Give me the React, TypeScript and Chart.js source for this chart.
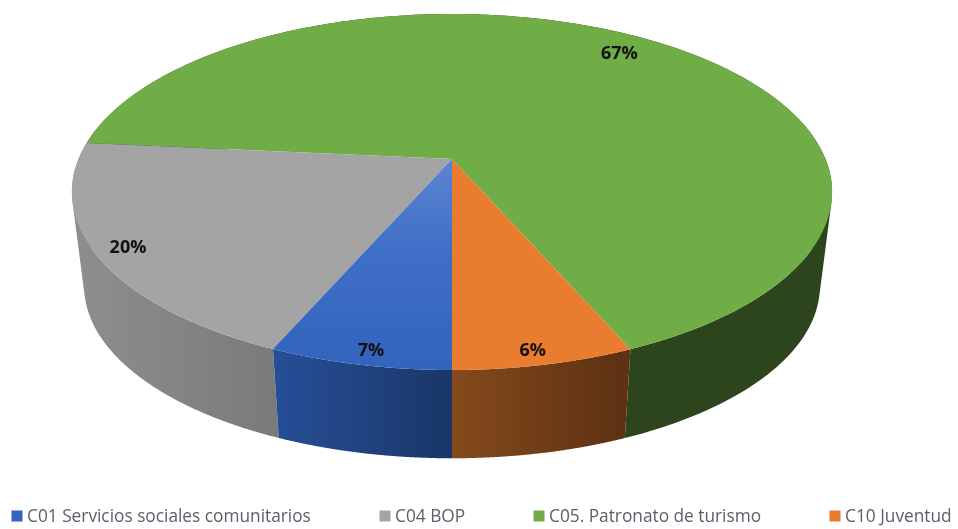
import React, { useEffect, useRef } from "react";
import { Chart, registerables } from "chart.js";

Chart.register(...registerables);

const categories = ["C01 Servicios sociales comunitarios", "C04 BOP", "C05. Patronato de turismo", "C10 Juventud"];
const values = [6.51, 20, 67, 6.49];
const topColors = ["#3264bd", "#a4a4a4", "#70ad47", "#ea7c30"];
const wallLeftColors = ["#264e96", "#8d8d8d", "#2d451c", "#854a1c"];
const wallRightColors = ["#1a3668", "#7a7a7a", "#2d451c", "#5d3112"];
const labelRadius = [0.94, 0.92, 0.86, 0.94];
const labelFraction = [0.47, 0.5, 0.5, 0.53];
const legendTextX = [27, 395, 549, 845];

// Perspective projection of the pie's disc onto the page.
const CX = 452;
const APEX_Y = 159;
const A = 373.5;
const B = 171.9;
const P = -0.1854;
const WALL_APEX_Y = 254;
const WALL_SCALE = 0.968;

function project(angle: number, t = 1) {
  const u = Math.cos(angle) * t;
  const v = Math.sin(angle) * t;
  const d = 1 + P * v;
  return { x: (A * u) / d, y: (B * v) / d };
}
const topPoint = (a: number, t = 1) => {
  const q = project(a, t);
  return { x: CX + q.x, y: APEX_Y + q.y };
};
const bottomPoint = (a: number) => {
  const q = project(a);
  return { x: CX + q.x * WALL_SCALE, y: WALL_APEX_Y + q.y * WALL_SCALE };
};

type Pt = { x: number; y: number };
function addQuad(ctx: CanvasRenderingContext2D, pts: Pt[]) {
  let area = 0;
  pts.forEach((p, k) => {
    const n = pts[(k + 1) % pts.length];
    area += p.x * n.y - n.x * p.y;
  });
  const list = area < 0 ? [...pts].reverse() : pts;
  ctx.moveTo(list[0].x, list[0].y);
  for (let k = 1; k < list.length; k++) ctx.lineTo(list[k].x, list[k].y);
  ctx.closePath();
}

const pie3d = {
  id: "pie3d",
  beforeDatasetDraw(chart: any) {
    const ctx: CanvasRenderingContext2D = chart.ctx;
    const arcs = chart.getDatasetMeta(0).data;
    const steps = 180;
    const order = [2, 1, 0, 3];
    ctx.save();
    // side walls
    order.forEach((i) => {
      const { startAngle, endAngle } = arcs[i];
      const tops: Pt[] = [];
      const bottoms: Pt[] = [];
      for (let s = 0; s <= steps; s++) {
        const a = startAngle + ((endAngle - startAngle) * s) / steps;
        tops.push(topPoint(a));
        bottoms.push(bottomPoint(a));
      }
      const xs = bottoms.filter((b) => b.y > 280).map((b) => b.x);
      const g = ctx.createLinearGradient(Math.min(...xs), 0, Math.max(...xs), 0);
      g.addColorStop(0, wallLeftColors[i]);
      g.addColorStop(1, wallRightColors[i]);
      ctx.fillStyle = g;
      ctx.beginPath();
      for (let s = 0; s < steps; s++) {
        addQuad(ctx, [tops[s], tops[s + 1], bottoms[s + 1], bottoms[s]]);
      }
      ctx.fill("nonzero");
    });
    // top faces
    order.forEach((i) => {
      const { startAngle, endAngle } = arcs[i];
      ctx.beginPath();
      ctx.moveTo(CX, APEX_Y);
      for (let s = 0; s <= steps; s++) {
        const q = topPoint(startAngle + ((endAngle - startAngle) * s) / steps);
        ctx.lineTo(q.x, q.y);
      }
      ctx.closePath();
      if (i === 0) {
        const g = ctx.createLinearGradient(0, APEX_Y, 0, APEX_Y + 212);
        g.addColorStop(0, "#5c84d2");
        g.addColorStop(0.45, "#3f6ec6");
        g.addColorStop(1, topColors[0]);
        ctx.fillStyle = g;
      } else {
        ctx.fillStyle = topColors[i];
      }
      ctx.fill();
    });
    // percentage labels
    ctx.fillStyle = "#111111";
    ctx.font = "bold 18px 'Open Sans'";
    ctx.textAlign = "center";
    ctx.textBaseline = "middle";
    arcs.forEach((arc: any, i: number) => {
      const a = arc.startAngle + (arc.endAngle - arc.startAngle) * labelFraction[i];
      const q = topPoint(a, labelRadius[i]);
      ctx.fillText(`${Math.round(values[i])}%`, q.x, q.y + 1);
    });
    // legend
    ctx.font = "17.3px 'Open Sans'";
    ctx.textAlign = "left";
    categories.forEach((name, i) => {
      ctx.fillStyle = topColors[i];
      ctx.fillRect(legendTextX[i] - 15.5, 510.5, 11, 11);
      ctx.fillStyle = "#5a606b";
      ctx.fillText(name, legendTextX[i], 517);
    });
    ctx.restore();
    return false;
  },
};

export default function App() {
  const ref = useRef<HTMLCanvasElement>(null);
  useEffect(() => {
    const chart = new Chart(ref.current!, {
      type: "pie",
      data: {
        labels: categories,
        datasets: [{ data: values, backgroundColor: topColors, borderWidth: 0 }],
      },
      options: {
        responsive: false,
        animation: false,
        rotation: 180,
        plugins: { legend: { display: false }, tooltip: { enabled: false } },
      },
      plugins: [pie3d],
    } as any);
    return () => chart.destroy();
  }, []);
  return (
    <div style={{ position: "absolute", left: 0, top: 0, width: 958, height: 529, background: "#fff" }}>
      <canvas ref={ref} width={958} height={529} style={{ display: "block" }} />
    </div>
  );
}
